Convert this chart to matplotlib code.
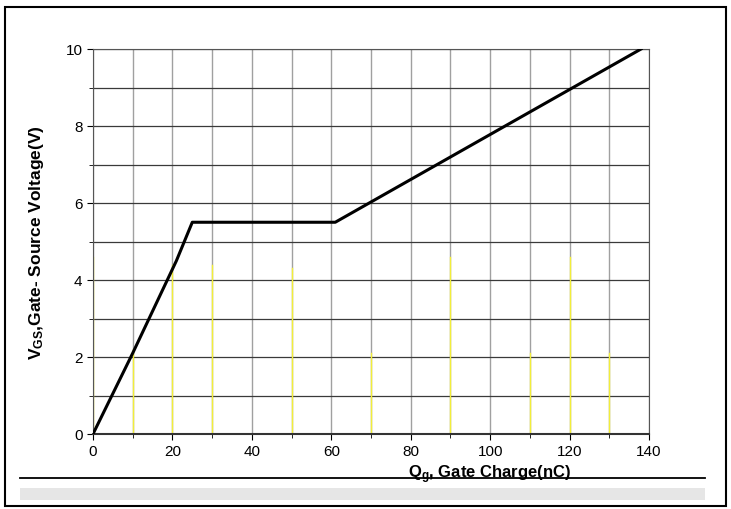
import matplotlib.pyplot as plt
from matplotlib.patches import Rectangle
from matplotlib.lines import Line2D

plt.rcParams['font.family'] = ['Liberation Sans', 'DejaVu Sans']
plt.rcParams['mathtext.fontset'] = 'custom'
plt.rcParams['mathtext.rm'] = 'Liberation Sans:bold'
plt.rcParams['mathtext.default'] = 'rm'

# gate charge curve (nC, V)
qg = [0, 10, 21, 25, 61, 138]
vgs = [0, 2.1, 4.5, 5.5, 5.5, 10]

x_ticks = [0, 20, 40, 60, 80, 100, 120, 140]
y_ticks = [0, 2, 4, 6, 8, 10]

fig = plt.figure(figsize=(7.31, 5.10), dpi=100)
ax = fig.add_axes([93 / 731, 1 - 435 / 510, 556 / 731, 385 / 510])

ax.set_xlim(0, 140)
ax.set_ylim(0, 10)
ax.set_xticks(x_ticks)
ax.set_yticks(y_ticks)
ax.set_xticks(range(0, 141, 10), minor=True)
ax.set_yticks(range(0, 11), minor=True)
ax.grid(True, which='both', axis='x', color='#a0a0a0', lw=1)
ax.grid(True, which='both', axis='y', color='#3a3a3a', lw=0.9)
ax.set_axisbelow(True)

# yellowish scan artefacts on the lower vertical grid lines
for x, top in [(0, 4.6), (10, 2.2), (20, 4.4), (30, 4.4), (50, 4.3),
               (70, 2.1), (90, 4.6), (110, 2.1), (120, 4.6), (130, 2.1)]:
    ax.plot([x, x], [0, top], color='#f2ee3a', lw=1, zorder=1)

ax.plot(qg, vgs, color='black', lw=2.2, zorder=3)

ax.tick_params(which='both', direction='out', labelsize=11)
ax.tick_params(which='major', length=4)
ax.tick_params(which='minor', length=3)
for s in ax.spines.values():
    s.set_color('#555555')
ax.spines['bottom'].set_color('#333333')
ax.spines['bottom'].set_linewidth(1.5)

ax.set_ylabel('V$_{GS}$,Gate- Source Voltage(V)', fontsize=12.5,
              fontweight='bold', labelpad=14)

fig.text(490 / 731, 1 - 475 / 510, 'Q$_g$, Gate Charge(nC)', fontsize=12,
         fontweight='bold', ha='center', va='center')

# frame and decoration lines
fig.add_artist(Rectangle((5 / 731, 1 - 507 / 510), 721 / 731, 499 / 510,
                         transform=fig.transFigure, fill=False,
                         edgecolor='black', lw=1.5))
fig.add_artist(Line2D([20 / 731, 705 / 731], [1 - 479 / 510] * 2,
                      transform=fig.transFigure, color='black', lw=1.3))
fig.add_artist(Rectangle((20 / 731, 1 - 501 / 510), 685 / 731, 12 / 510,
                         transform=fig.transFigure, color='#e6e6e6', lw=0))

fig.savefig('out.png', dpi=100)
